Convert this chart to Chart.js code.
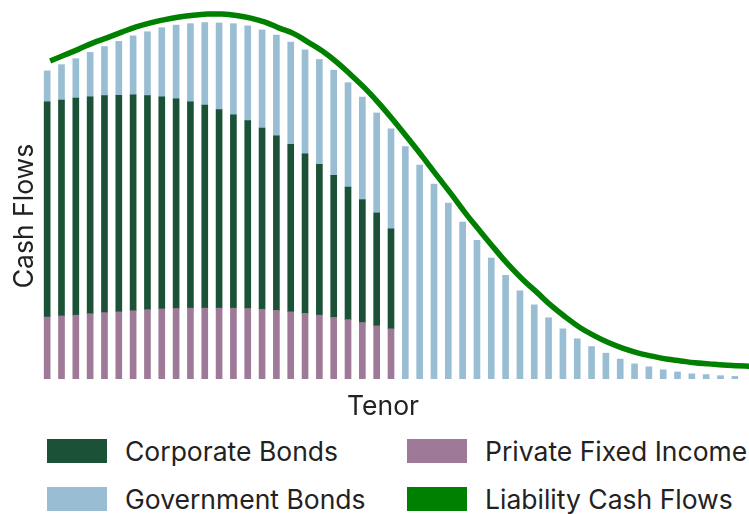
<!DOCTYPE html>
<html>
<head>
<meta charset="utf-8">
<script src="https://cdn.jsdelivr.net/npm/chart.js@4/dist/chart.umd.min.js"></script>
<style>
  html, body { margin: 0; padding: 0; background: #fff; }
  #wrap { position: relative; width: 749px; height: 514px; overflow: hidden; }
  #box { position: absolute; left: 0; top: 0; width: 749px; height: 430px; }
  #legend { position: absolute; left: 47px; top: 439px; display: grid;
            grid-template-columns: 360px 320px; row-gap: 24px;
            font-family: Inter, 'Noto Sans', sans-serif; font-size: 26.5px; color: #222; }
  .item { display: flex; align-items: center; height: 24px; white-space: nowrap; }
  .sw { width: 60px; height: 24px; margin-right: 18px; flex: none; }
</style>
</head>
<body>
<div id="wrap">
  <div id="box"><canvas id="chart"></canvas></div>
  <div id="legend"></div>
</div>
<script>
// ---------- data (arbitrary cash-flow units) ----------
const tenors = [1, 2, 3, 4, 5, 6, 7, 8, 9, 10, 11, 12, 13, 14, 15, 16, 17, 18, 19, 20,
  21, 22, 23, 24, 25, 26, 27, 28, 29, 30, 31, 32, 33, 34, 35, 36, 37, 38, 39, 40,
  41, 42, 43, 44, 45, 46, 47, 48, 49]

const privateFixedIncome = [16.8, 17.1, 17.3, 17.7, 18.0, 18.2, 18.5, 18.8, 19.0, 19.1,
  19.2, 19.2, 19.2, 19.2, 19.1, 18.9, 18.6, 18.2, 17.8, 17.3, 16.7, 16.1, 15.3, 14.4, 13.6]

const corporateBonds = [58.3, 58.5, 58.8, 58.8, 58.8, 58.7, 58.5, 58.0, 57.5, 56.8,
  55.9, 55.0, 53.8, 52.4, 50.9, 49.1, 47.3, 45.4, 43.2, 40.9, 38.5, 35.9, 33.3, 30.6, 27.1]

const governmentBonds = [8.4, 9.6, 10.7, 12.0, 13.3, 14.6, 16.0, 17.3, 18.7, 20.0,
  21.2, 22.4, 23.5, 24.7, 25.7, 26.6, 27.3, 27.7, 28.2, 28.4, 28.5, 28.3, 27.8, 27.1, 27.1,
  63.0, 58.0, 52.8, 47.7, 42.5, 37.6, 32.8, 28.1, 23.9, 20.1, 16.6, 13.6, 10.9, 8.8, 7.0,
  5.4, 4.1, 3.3, 2.5, 1.9, 1.4, 1.2, 0.9, 0.7]

// liability curve runs one tenor past the last bar (cut by the right edge)
const liabilityCashFlows = [86.2, 87.8, 89.4, 91.1, 92.5, 94.0, 95.4, 96.5, 97.4, 98.1,
  98.6, 98.9, 98.9, 98.5, 97.8, 96.7, 95.1, 93.6, 91.3, 88.9, 85.9, 82.4, 78.7, 74.5, 69.9,
  65.1, 60.2, 55.1, 50.1, 44.9, 40.1, 35.4, 30.9, 26.9, 23.4, 19.8, 16.7, 13.9, 11.7, 9.8,
  8.3, 7.1, 6.2, 5.4, 4.9, 4.4, 4.1, 3.8, 3.6, 3.4]

const legendOrder = ['Corporate Bonds', 'Private Fixed Income', 'Government Bonds', 'Liability Cash Flows']

// ---------- colours / fonts ----------
const C_CORP = '#1b5136'
const C_GOV  = '#99bed4'
const C_PFI  = '#9e7a98'
const C_LIAB = '#008000'
const C_TEXT = '#222'
const FONT   = "Inter, 'Noto Sans', sans-serif"

// axis titles sit off-centre in the original, so they are drawn here
const axisTitles = {
  id: 'axisTitles',
  afterDraw(chart, _args, opts) {
    const { ctx } = chart
    ctx.save()
    ctx.font = `${opts.size}px ${FONT}`
    ctx.fillStyle = C_TEXT
    ctx.textAlign = 'center'
    ctx.textBaseline = 'alphabetic'
    ctx.fillText(opts.x.text, opts.x.at[0], opts.x.at[1])
    ctx.translate(opts.y.at[0], opts.y.at[1])
    ctx.rotate(-Math.PI / 2)
    ctx.fillText(opts.y.text, 0, 0)
    ctx.restore()
  }
}

const bar = (label, data, color) => ({
  type: 'bar', label, data, backgroundColor: color, borderWidth: 0,
  stack: 'assets', barThickness: 6, order: 2
})

const chart = new Chart(document.getElementById('chart'), {
  type: 'bar',
  data: {
    labels: tenors,
    datasets: [
      bar('Private Fixed Income', privateFixedIncome, C_PFI),
      bar('Corporate Bonds', corporateBonds, C_CORP),
      bar('Government Bonds', governmentBonds, C_GOV),
      {
        type: 'line', label: 'Liability Cash Flows',
        data: liabilityCashFlows.map((v, i) => ({ x: i, y: v })),
        xAxisID: 'xLine', stack: 'liab',
        borderColor: C_LIAB, backgroundColor: C_LIAB, borderWidth: 5.5,
        pointRadius: 0, tension: 0.4, fill: false, clip: false, order: 1
      }
    ]
  },
  plugins: [axisTitles],
  options: {
    responsive: true, maintainAspectRatio: false, animation: false,
    layout: { padding: { top: 10, right: 4, left: 0, bottom: 0 } },
    plugins: {
      legend: { display: false }, tooltip: { enabled: false },
      axisTitles: { size: 26.5, x: { text: 'Tenor', at: [383, 415] }, y: { text: 'Cash Flows', at: [33, 216] } }
    },
    scales: {
      x: {
        stacked: true,
        ticks: { display: false }, grid: { display: false }, border: { display: false },
        afterFit: s => { s.height = 51 }
      },
      xLine: {
        type: 'linear', display: false, offset: false,
        min: -0.5, max: tenors.length - 0.5
      },
      y: {
        stacked: true, min: 0, max: 100,
        ticks: { display: false }, grid: { display: false }, border: { display: false },
        afterFit: s => { s.width = 43 }
      }
    }
  }
})

// ---------- legend (2 x 2 grid) ----------
const legendEl = document.getElementById('legend')
for (const name of legendOrder) {
  const ds = chart.data.datasets.find(d => d.label === name)
  const item = document.createElement('div')
  item.className = 'item'
  const sw = document.createElement('span')
  sw.className = 'sw'
  sw.style.background = ds.type === 'line' ? ds.borderColor : ds.backgroundColor
  const txt = document.createElement('span')
  txt.textContent = name
  item.appendChild(sw)
  item.appendChild(txt)
  legendEl.appendChild(item)
}
</script>
</body>
</html>
